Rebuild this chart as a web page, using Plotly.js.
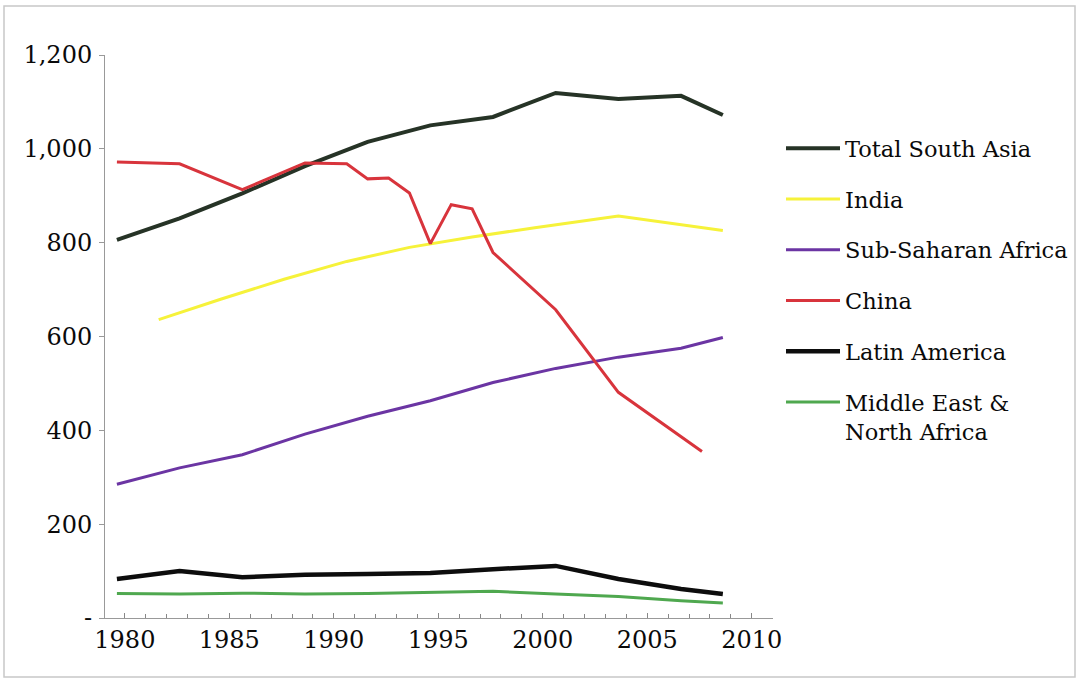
<!DOCTYPE html>
<html>
<head>
<meta charset="utf-8">
<script src="https://cdn.plot.ly/plotly-3.0.1.min.js"></script>
<style>
  html, body { margin: 0; padding: 0; background: #fff; }
  #chart { width: 1078px; height: 679px; }
</style>
</head>
<body>
<div id="chart"></div>
<script>
// ---- Data ----
const seriesNames = ["Total South Asia", "India", "Sub-Saharan Africa", "China", "Latin America", "Middle East &<br>North Africa"];

const southAsiaYears  = [1980, 1983, 1986, 1989, 1992, 1995, 1998, 2001, 2004, 2007, 2009];
const southAsiaValues = [806, 852, 905, 963, 1015, 1050, 1068, 1119, 1106, 1113, 1072];

const indiaYears  = [1982, 1985, 1988, 1991, 1994, 1997, 2000, 2004, 2009];
const indiaValues = [636, 680, 722, 760, 790, 812, 832, 857, 826];

const ssaYears  = [1980, 1983, 1986, 1989, 1992, 1995, 1998, 2001, 2004, 2007, 2009];
const ssaValues = [285, 320, 348, 392, 430, 463, 502, 532, 556, 575, 598];

const chinaYears  = [1980, 1983, 1986, 1989, 1991, 1992, 1993, 1994, 1995, 1996, 1997, 1998, 2001, 2004, 2008];
const chinaValues = [972, 968, 913, 970, 968, 936, 938, 906, 798, 881, 872, 779, 657, 481, 355];

const latinYears  = [1980, 1983, 1986, 1989, 1992, 1995, 1998, 2001, 2004, 2007, 2009];
const latinValues = [83, 100, 87, 92, 94, 96, 104, 111, 83, 62, 51];

const menaYears  = [1980, 1983, 1986, 1989, 1992, 1995, 1998, 2001, 2004, 2007, 2009];
const menaValues = [52, 51, 53, 51, 52, 55, 57, 51, 46, 37, 32];

const xTickLabels = ["1980", "1985", "1990", "1995", "2000", "2005", "2010"];
const yTickValues = [0, 200, 400, 600, 800, 1000, 1200];
const yTickLabels = ["-", "200", "400", "600", "800", "1,000", "1,200"];

// ---- Styling ----
const LABEL_OFFSET = 0.38; // category labels sit slightly right of the data points
const FONT = "DejaVu Serif, Liberation Serif, serif";

function trace(name, xs, ys, color, width, group) {
  return {
    type: "scatter", mode: "lines", name: name, x: xs, y: ys,
    line: { color: color, width: width },
    legendgroup: group, hoverinfo: "skip"
  };
}

const data = [
  trace(seriesNames[0], southAsiaYears, southAsiaValues, "#263326", 4, "g1"),
  trace(seriesNames[1], indiaYears, indiaValues, "#f6f23a", 3, "g2"),
  trace(seriesNames[2], ssaYears, ssaValues, "#6b35a3", 3, "g3"),
  trace(seriesNames[3], chinaYears, chinaValues, "#d8343c", 3, "g4"),
  trace(seriesNames[4], latinYears, latinValues, "#0d0d0d", 4.5, "g5"),
  trace(seriesNames[5], menaYears, menaValues, "#4fa84f", 3, "g6")
];

const W = 1078, H = 679;
const L = 105, R = 305, T = 55, B = 61;
const pw = W - L - R, ph = H - T - B;

const layout = {
  width: W, height: H,
  margin: { l: L, r: R, t: T, b: B, pad: 0, autoexpand: false },
  paper_bgcolor: "#fff", plot_bgcolor: "#fff",
  font: { family: FONT, color: "#111" },
  showlegend: true,
  xaxis: {
    range: [1979.43, 2011.4],
    tickvals: xTickLabels.map(s => Number(s) + LABEL_OFFSET),
    ticktext: xTickLabels,
    ticks: "inside", ticklen: 5, tickcolor: "#888", tickwidth: 1,
    minor: { tick0: 1980 + LABEL_OFFSET, dtick: 1, ticks: "inside", ticklen: 4, tickcolor: "#888", showgrid: false },
    showline: true, linecolor: "#999", linewidth: 1,
    showgrid: false, zeroline: false,
    tickfont: { family: FONT, size: 24, color: "#0a0a0a" },
    fixedrange: true
  },
  yaxis: {
    range: [0, 1200],
    tickvals: yTickValues, ticktext: yTickLabels,
    ticks: "outside", ticklen: 5, tickcolor: "#999", tickwidth: 1,
    showline: true, linecolor: "#999", linewidth: 1,
    showgrid: false, zeroline: false,
    ticklabelstandoff: 2,
    tickfont: { family: FONT, size: 24, color: "#0a0a0a" },
    fixedrange: true
  },
  legend: {
    x: (781 - L) / pw, xanchor: "left",
    y: (H - B - 127) / ph, yanchor: "top",
    bgcolor: "rgba(0,0,0,0)",
    font: { family: FONT, size: 22.5, color: "#0a0a0a" },
    traceorder: "grouped", tracegroupgap: 18.5,
    itemwidth: 54, valign: "top"
  },
  shapes: [{
    type: "rect", xref: "paper", yref: "paper",
    x0: (4 - L) / pw, x1: (1075 - L) / pw,
    y0: (H - B - 677) / ph, y1: (H - B - 6) / ph,
    line: { color: "#c8c8c8", width: 1.5 }, layer: "below"
  }]
};

Plotly.newPlot("chart", data, layout, { staticPlot: true, displayModeBar: false });
</script>
</body>
</html>
